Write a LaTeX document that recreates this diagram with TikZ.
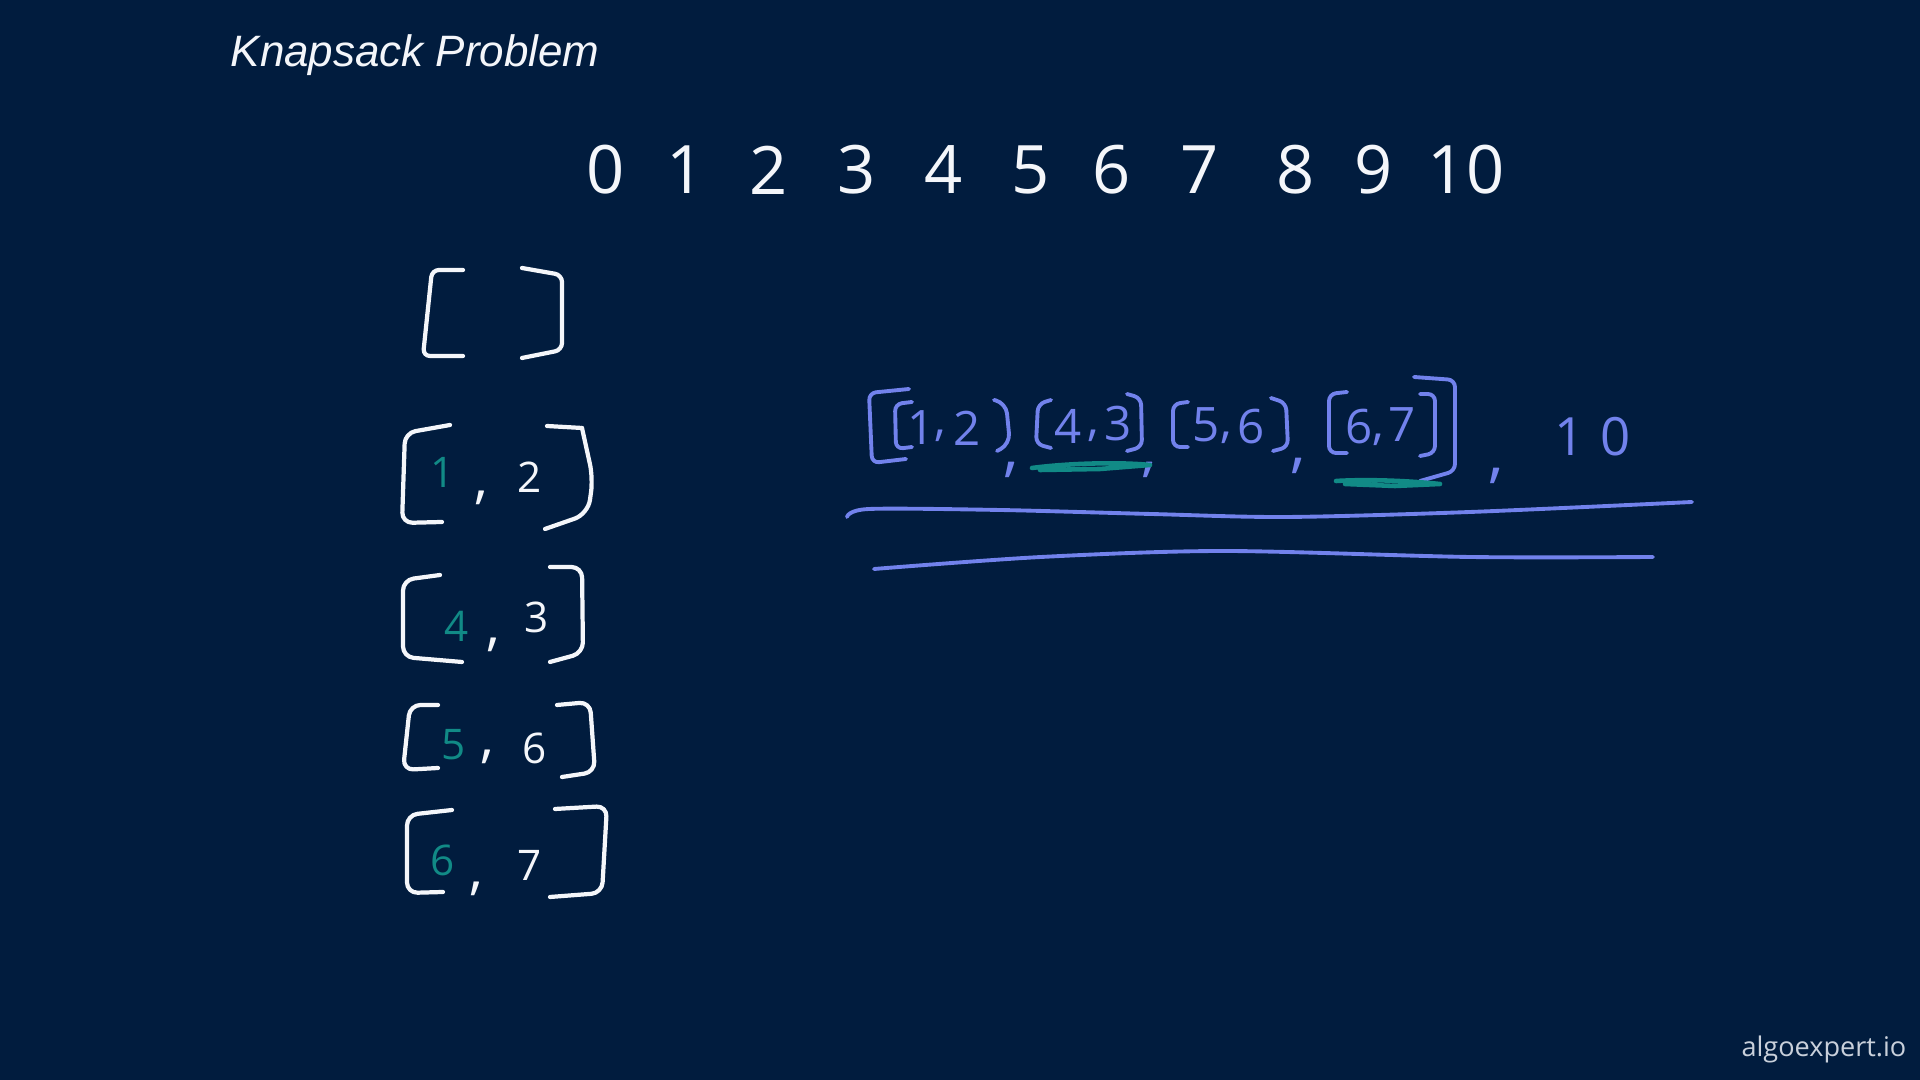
\documentclass[tikz,border=0pt]{standalone}
\usepackage{fontspec}
\setmainfont{Open Sans}
\newfontfamily\titlefont{Liberation Sans}
\newfontfamily\markfont{Open Sans}
\definecolor{bg}{HTML}{011C3E}
\definecolor{chalk}{HTML}{F4F6FA}
\definecolor{penblue}{HTML}{7282EC}
\definecolor{penteal}{HTML}{118A86}
\definecolor{markgray}{HTML}{C9D0DB}
\tikzset{
  whitepen/.style={draw=chalk, line width=1.2pt, line cap=round, line join=round},
  bluepen/.style={draw=penblue, line width=1.1pt, line cap=round, line join=round},
  tealpen/.style={draw=penteal, line width=1.3pt, line cap=round, line join=round},
  topdig/.style={text=chalk, inner sep=0pt, font=\fontsize{19}{19}\selectfont},
  leftdig/.style={text=chalk, inner sep=0pt, font=\fontsize{12}{12}\selectfont},
  leftkey/.style={leftdig, text=penteal},
  leftcomma/.style={text=chalk, inner sep=0pt, font=\fontsize{16}{16}\selectfont},
  bluedig/.style={text=penblue, inner sep=0pt, font=\fontsize{13.5}{13.5}\selectfont},
  bluecomma/.style={text=penblue, inner sep=0pt, font=\fontsize{18}{18}\selectfont},
}
\begin{document}
\begin{tikzpicture}[x=0.01cm,y=-0.01cm]
\fill[bg] (0,0) rectangle (1920,1080);
\useasboundingbox (0,0) rectangle (1920,1080);

% title and watermark
\node[anchor=base west, inner sep=0pt, text=chalk, font=\titlefont\itshape\fontsize{12.5}{12.5}\selectfont] (title) at (230,67) {Knapsack Problem};
\node[anchor=base east, inner sep=0pt, text=markgray, font=\markfont\fontsize{7.7}{7.7}\selectfont] (mark) at (1907,1057) {algoexpert.io};

% capacity row
\foreach \i/\x in {0/606,1/686,2/769,3/857,4/944,5/1031,6/1112,7/1200,8/1296,9/1374,10/1466}
  \node[topdig] (d\i) at (\x,170) {\i};

% left column: empty bracket
\draw[whitepen, rounded corners=2pt] (463,270) -- (432,270) -- (423,356) -- (463,356);
\draw[whitepen, rounded corners=2pt] (522,268) -- (562,275) -- (562,350) -- (522,358);

% [1, 2]
\draw[whitepen, rounded corners=3pt] (450,425) -- (405,433) -- (402,523) -- (442,522);
\draw[whitepen] (547,426) -- (582,428);
\draw[whitepen, rounded corners=4pt] (582,428) -- (593,478) -- (588,514) -- (545,529);
\node[leftkey] (a1) at (443,472) {1};
\node[leftcomma] (c1) at (481,498) {,};
\node[leftdig] (b1) at (530,477) {2};

% [4, 3]
\draw[whitepen, rounded corners=3pt] (440,575) -- (403,580) -- (403,657) -- (462,662);
\draw[whitepen, rounded corners=3pt] (550,567) -- (582,567) -- (583,653) -- (550,662);
\node[leftkey] (a2) at (457,626) {4};
\node[leftcomma] (c2) at (493,645) {,};
\node[leftdig] (b2) at (537,617) {3};

% [5, 6]
\draw[whitepen, rounded corners=3pt] (438,705) -- (410,705) -- (403,770) -- (438,768);
\draw[whitepen, rounded corners=3pt] (557,705) -- (590,702) -- (595,772) -- (562,777);
\node[leftkey] (a3) at (454,745) {5};
\node[leftcomma] (c3) at (487,757) {,};
\node[leftdig] (b3) at (535,748) {6};

% [6, 7]
\draw[whitepen, rounded corners=3pt] (452,810) -- (407,815) -- (407,893) -- (443,892);
\draw[whitepen, rounded corners=3pt] (555,809) -- (607,806) -- (602,893) -- (550,897);
\node[leftkey] (a4) at (443,860) {6};
\node[leftcomma] (c4) at (476,889) {,};
\node[leftdig] (b4) at (530,865) {7};

% blue expression: outer brackets
\draw[bluepen, rounded corners=2pt] (909,389) -- (869,393) -- (872,463) -- (906,459);
\draw[bluepen, rounded corners=2pt] (1414,377) -- (1455,380) -- (1455,471) -- (1420,481);

% [1,2]
\draw[bluepen, rounded corners=2pt] (912,402) -- (895,404) -- (896,449) -- (912,447);
\draw[bluepen, rounded corners=3pt] (994,400) -- (1006,403) -- (1010,444) -- (997,451);
\node[bluedig] (e1) at (921,428) {1};
\node[bluedig] (f1) at (940,436) {,};
\node[bluedig] (g1) at (967,428) {2};
\node[bluecomma] (s1) at (1011,470) {,};

% [4,3]
\draw[bluepen, rounded corners=2pt] (1051,400) -- (1038,404) -- (1036,444) -- (1051,448);
\draw[bluepen, rounded corners=2pt] (1127,394) -- (1141,398) -- (1142,447) -- (1127,451);
\node[bluedig] (e2) at (1068,426) {4};
\node[bluedig] (f2) at (1093,436) {,};
\node[bluedig] (g2) at (1118,424) {3};
\node[bluecomma] (s2) at (1149,470) {,};

% [5,6]
\draw[bluepen, rounded corners=2pt] (1188,402) -- (1173,404) -- (1173,447) -- (1188,447);
\draw[bluepen, rounded corners=2pt] (1271,398) -- (1286,403) -- (1288,447) -- (1273,451);
\node[bluedig] (e3) at (1206,425) {5};
\node[bluedig] (f3) at (1226,438) {,};
\node[bluedig] (g3) at (1251,427) {6};
\node[bluecomma] (s3) at (1298,466) {,};

% [6,7]
\draw[bluepen, rounded corners=2pt] (1347,392) -- (1329,394) -- (1329,453) -- (1347,453);
\draw[bluepen, rounded corners=2pt] (1420,394) -- (1435,394) -- (1435,453) -- (1420,456);
\node[bluedig] (e4) at (1359,427) {6};
\node[bluedig] (f4) at (1378,440) {,};
\node[bluedig] (g4) at (1402,425) {7};
\node[bluecomma] (s4) at (1496,476) {,};

% capacity
\node[bluedig, font=\fontsize{15}{15}\selectfont] (cap) at (1593,437) {1\hspace{0.3em}0};

% teal underlines
\draw[tealpen] (1032,468) .. controls (1070,463) and (1120,462) .. (1150,465) -- (1100,469) -- (1040,470);
\draw[tealpen] (1336,481) .. controls (1370,479) and (1410,481) .. (1440,484) -- (1395,486) -- (1345,484);

% blue rules
\draw[bluepen] plot[smooth, tension=0.5] coordinates {(847,517) (869,509) (1000,510) (1151,514) (1286,517) (1470,512) (1692,502)};
\draw[bluepen] plot[smooth, tension=0.5] coordinates {(874,569) (1041,557) (1224,551) (1470,557) (1653,557)};
\end{tikzpicture}
\end{document}
